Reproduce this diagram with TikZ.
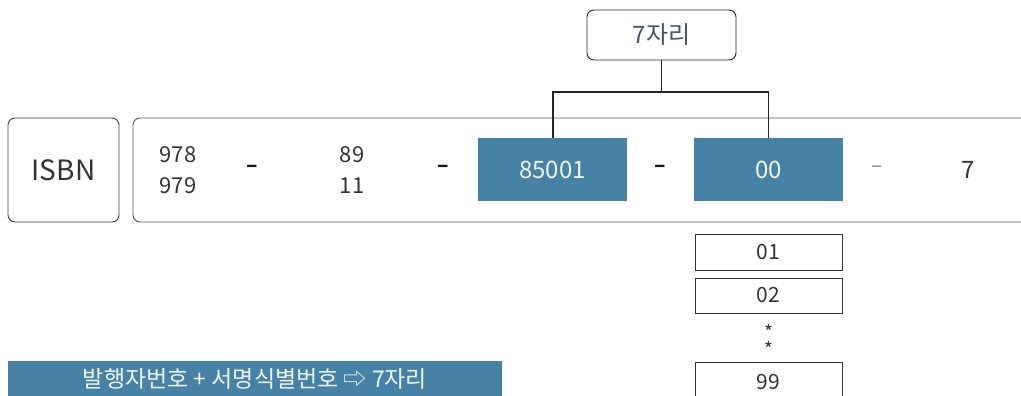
\documentclass[tikz,border=0pt]{standalone}
\usepackage{fontspec}
\setmainfont{Noto Sans CJK KR}
\begin{document}
\begin{tikzpicture}[x=1pt,y=-1pt,
  txt/.style={text=black!80, inner sep=0pt},
  blue box/.style={fill=steel, draw=none, text=white},
  rbox/.style={draw=black!75, line width=0.9pt, rounded corners=7pt},
  sbox/.style={draw=black!80, line width=1pt, fill=white, text=black!80, font=\fontsize{21}{21}\selectfont},
  conn/.style={draw=black!85, line width=1.4pt},
  dashmark/.style={text=black!90, font=\fontsize{21}{21}\selectfont\bfseries, inner sep=0pt}
]
\definecolor{steel}{HTML}{4682A6}
\definecolor{navytext}{HTML}{44546A}
\useasboundingbox (0,0) rectangle (1021,396);
\fill[white] (0,0) rectangle (1021,396);
% ISBN box
\node[rbox, minimum width=111pt, minimum height=104pt, font=\fontsize{28}{28}\selectfont, text=black!80] (isbn) at (63.5,170) {ISBN};
% big box
\draw[rbox, draw=black!65] (133,118) rectangle (1040,222);
% numbers
\node[txt, font=\fontsize{22}{24}\selectfont, align=center] (p1) at (178,170) {978\\[7pt]979};
\node[dashmark] (d1) at (252,169) {–};
\node[txt, font=\fontsize{22}{24}\selectfont, align=center] (p2) at (352,170) {89\\[7pt]11};
\node[dashmark] (d2) at (443,169) {–};
\node[blue box, minimum width=149pt, minimum height=63pt, font=\fontsize{24}{24}\selectfont, text=white!92!steel] (pub) at (552.5,169.5) {85001};
\node[dashmark] (d3) at (660,169) {–};
\node[blue box, minimum width=149pt, minimum height=63pt, font=\fontsize{24}{24}\selectfont, text=white!92!steel] (ttl) at (768.5,169.5) {00};
\node[dashmark, text=black!50, font=\fontsize{21}{21}\selectfont] (d4) at (877,169) {–};
\node[txt, font=\fontsize{24}{24}\selectfont] (chk) at (968,170) {7};
% 7자리 box
\node[rbox, draw=black!85, minimum width=149pt, minimum height=50pt, text=navytext, font=\fontsize{24}{24}\selectfont] (seven) at (661.5,35) {7자리};
\coordinate (jn) at (661.5,92);
\draw[conn] (seven.south) -- (jn);
\draw[conn, line width=1.2pt] (pub.north -| 553,0) |- (jn) -| (ttl.north);
% variants
\node[sbox, minimum width=147pt, minimum height=36pt] (v01) at (768.5,252) {01};
\node[sbox, minimum width=147pt, minimum height=35pt] (v02) at (768.5,295.5) {02};
\node[txt, font=\fontsize{19}{19}\selectfont] (s1) at (768.5,332) {*};
\node[txt, font=\fontsize{19}{19}\selectfont] (s2) at (768.5,349) {*};
\node[sbox, minimum width=147pt, minimum height=40pt] (v99) at (768.5,382) {99};
% banner
\node[blue box, minimum width=494pt, minimum height=36pt, font=\fontsize{23}{23}\selectfont, text=white!92!steel] (ban) at (255,379) {발행자번호 + 서명식별번호 ⇨ 7자리};
\end{tikzpicture}
\end{document}
